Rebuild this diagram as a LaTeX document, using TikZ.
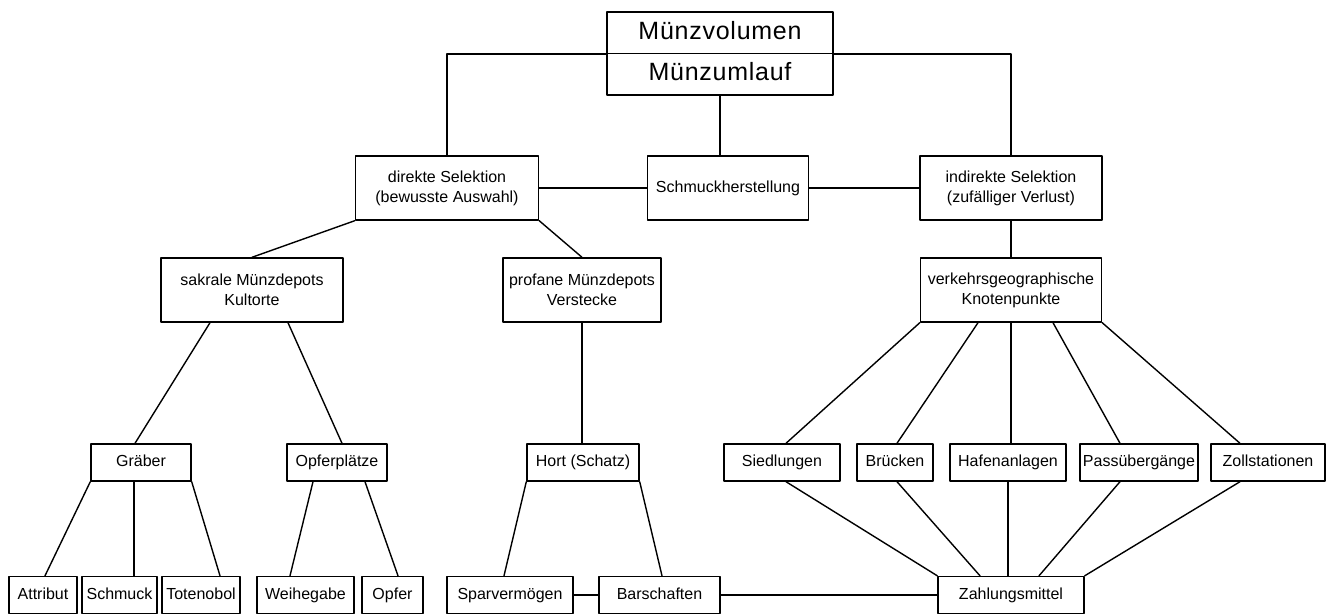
\documentclass[tikz,border=0pt]{standalone}
\usepackage{fontspec}
\setmainfont{Liberation Sans}
\newfontfamily\headfont[LetterSpace=3]{Liberation Sans}

\begin{document}
\begin{tikzpicture}[
  x=0.5pt,
  y=-0.5pt,
  font=\fontsize{8}{10}\selectfont,
  line cap=round,
  line join=round,
  box/.style={draw=black,line width=0.7pt,align=center,inner sep=0pt,
    minimum width=#1*0.5pt},
  tall/.style={minimum height=32pt},
  flat/.style={minimum height=18.5pt,text height=6pt,text depth=1.8pt},
  head/.style={box=226,minimum height=20.75pt,text height=9pt,text depth=2.5pt,
    font=\headfont\fontsize{12.5}{15}\selectfont},
  link/.style={draw=black,line width=0.7pt}
]
  \path[use as bounding box] (0,0) rectangle (1339,615);

  % Top: the two-part head box
  \node[head] (vol) at (720,32.75) {Münzvolumen};
  \node[head] (uml) at (720,74.25) {Münzumlauf};

  % Second row
  \node[box=183,tall] (dir) at (447,188) {direkte Selektion\\(bewusste Auswahl)};
  \node[box=161,tall] (schm) at (728,188) {Schmuckherstellung};
  \node[box=182,tall] (ind) at (1011,188) {indirekte Selektion\\(zufälliger Verlust)};

  % Third row
  \node[box=182,tall] (sak) at (252,290) {sakrale Münzdepots\\Kultorte};
  \node[box=158,tall] (prof) at (582,290) {profane Münzdepots\\Verstecke};
  \node[box=181,tall] (verk) at (1011,290) {verkehrsgeographische\\Knotenpunkte};

  % Fourth row
  \node[box=100,flat] (grab) at (141,462.5) {Gräber};
  \node[box=100,flat] (opfpl) at (337,462.5) {Opferplätze};
  \node[box=112,flat] (hort) at (583,462.5) {Hort (Schatz)};
  \node[box=116,flat] (sied) at (782,462.5) {Siedlungen};
  \node[box=76,flat] (bru) at (895,462.5) {Brücken};
  \node[box=116,flat] (haf) at (1008,462.5) {Hafenanlagen};
  \node[box=118,flat] (pass) at (1139,462.5) {Passübergänge};
  \node[box=114,flat] (zoll) at (1268,462.5) {Zollstationen};

  % Bottom row
  \node[box=68,flat] (attr) at (43,595) {Attribut};
  \node[box=75,flat] (schmk) at (119.5,595) {Schmuck};
  \node[box=78,flat] (toten) at (201,595) {Totenobol};
  \node[box=97,flat] (weih) at (305.5,595) {Weihegabe};
  \node[box=61,flat] (opf) at (392.5,595) {Opfer};
  \node[box=126,flat] (spar) at (510,595) {Sparvermögen};
  \node[box=121,flat] (bar) at (659.5,595) {Barschaften};
  \node[box=146,flat] (zahl) at (1011,595) {Zahlungsmittel};

  % Links from the head box
  \draw[link] (vol.south west) -| (dir.north);
  \draw[link] (vol.south east) -| (ind.north);
  \draw[link] (uml.south) -- (uml.south |- schm.north);
  \draw[link] (dir) -- (schm) -- (ind);

  % Left branch
  \draw[link] (dir.south west) -- (sak.north);
  \draw[link] (dir.south east) -- (prof.north);
  \draw[link] (210,0 |- sak.south) -- (135,0 |- grab.north);
  \draw[link] (288,0 |- sak.south) -- (342,0 |- opfpl.north);
  \draw[link] (grab.south west) -- (45,0 |- attr.north);
  \draw[link] (134,0 |- grab.south) -- (134,0 |- schmk.north);
  \draw[link] (grab.south east) -- (220,0 |- toten.north);
  \draw[link] (313,0 |- opfpl.south) -- (290,0 |- weih.north);
  \draw[link] (365,0 |- opfpl.south) -- (398,0 |- opf.north);
  \draw[link] (prof.south) -- (prof.south |- hort.north);
  \draw[link] (hort.south west) -- (504,0 |- spar.north);
  \draw[link] (hort.south east) -- (662,0 |- bar.north);
  \draw[link] (spar) -- (bar) -- (zahl);

  % Right branch: the fan above and below the fourth row
  \draw[link] (ind.south) -- (ind.south |- verk.north);
  \draw[link] (verk.south) -- (verk.south |- haf.north);
  \draw[link] (haf.south) -- (haf.south |- zahl.north);
  \draw[link] (verk.south west) -- (786,0 |- sied.north);
  \draw[link] (verk.south east) -- (1240,0 |- zoll.north);
  \foreach \top/\nd/\bot in {978/bru/897,1053/pass/1120}{
    \draw[link] (\top,0 |- verk.south) -- (\bot,0 |- \nd.north);
  }
  \draw[link] (786,0 |- sied.south) -- (zahl.north west);
  \draw[link] (1240,0 |- zoll.south) -- (zahl.north east);
  \foreach \nd/\up/\low in {bru/897/980,pass/1120/1039}{
    \draw[link] (\up,0 |- \nd.south) -- (\low,0 |- zahl.north);
  }
\end{tikzpicture}
\end{document}
